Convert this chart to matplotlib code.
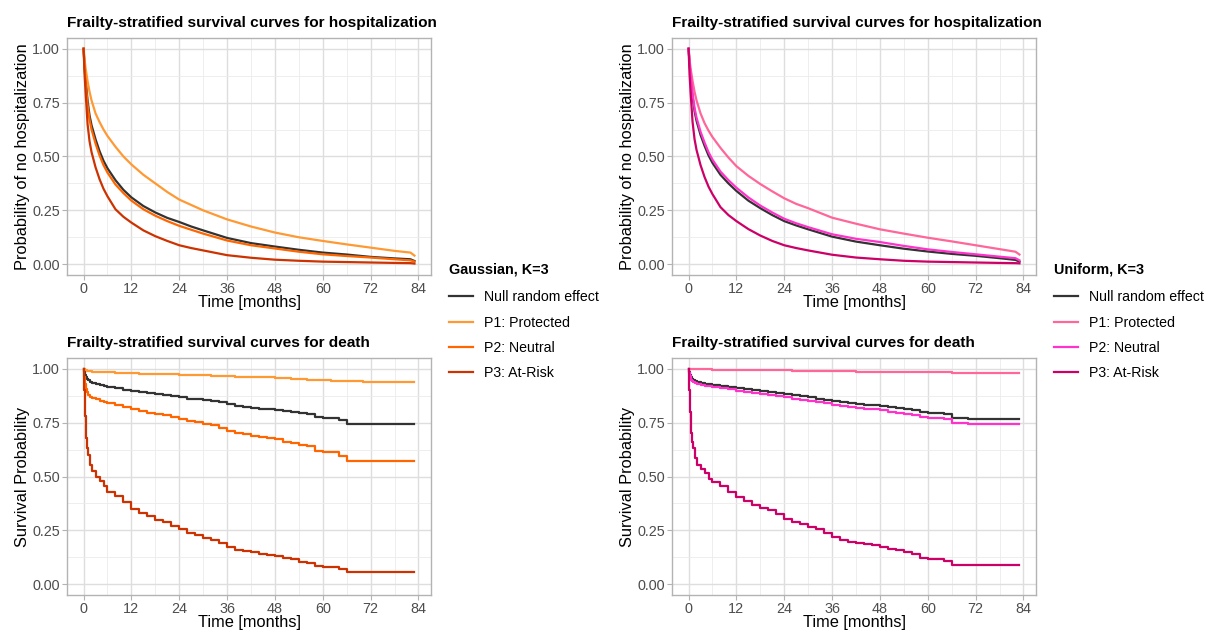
import numpy as np
import matplotlib
matplotlib.use("Agg")
import matplotlib.pyplot as plt
from matplotlib.ticker import MultipleLocator, FormatStrFormatter

plt.rcParams['font.family'] = ['Liberation Sans', 'DejaVu Sans']

labels = ["Null random effect", "P1: Protected", "P2: Neutral", "P3: At-Risk"]
gauss_colors = ["#333333", "#FF9933", "#FF6600", "#CC3300"]
unif_colors = ["#333333", "#FF6699", "#FF33CC", "#CC0066"]

# hospitalization curves (months, survival)
hosp_t = [0, 0.25, 0.5, 1, 1.5, 2, 3, 4, 5, 6, 8, 10, 12, 15, 18, 21, 24, 27, 30, 36, 42, 48, 54, 60, 66, 72, 78, 82, 83]

g_hosp_null = [1.0, 0.92, 0.86, 0.76, 0.69, 0.645, 0.58, 0.525, 0.48, 0.445, 0.39, 0.345, 0.31, 0.27, 0.24, 0.215, 0.196, 0.175, 0.157, 0.122, 0.098, 0.082, 0.067, 0.054, 0.045, 0.034, 0.027, 0.023, 0.015]
g_hosp_p1 = [1.0, 0.95, 0.91, 0.85, 0.80, 0.76, 0.70, 0.66, 0.625, 0.595, 0.545, 0.50, 0.463, 0.415, 0.375, 0.335, 0.30, 0.275, 0.25, 0.208, 0.175, 0.147, 0.125, 0.108, 0.092, 0.077, 0.062, 0.054, 0.04]
g_hosp_p2 = [1.0, 0.91, 0.85, 0.74, 0.67, 0.625, 0.56, 0.505, 0.46, 0.425, 0.37, 0.33, 0.295, 0.255, 0.225, 0.20, 0.178, 0.16, 0.142, 0.11, 0.088, 0.073, 0.058, 0.046, 0.038, 0.031, 0.023, 0.018, 0.012]
g_hosp_p3 = [1.0, 0.88, 0.80, 0.65, 0.57, 0.52, 0.45, 0.395, 0.35, 0.315, 0.255, 0.22, 0.193, 0.157, 0.13, 0.108, 0.088, 0.075, 0.064, 0.042, 0.030, 0.021, 0.016, 0.012, 0.010, 0.008, 0.006, 0.005, 0.003]

u_hosp_null = [1.0, 0.93, 0.87, 0.78, 0.71, 0.665, 0.60, 0.55, 0.505, 0.47, 0.415, 0.375, 0.34, 0.295, 0.26, 0.228, 0.20, 0.18, 0.162, 0.128, 0.105, 0.088, 0.072, 0.059, 0.048, 0.039, 0.028, 0.02, 0.012]
u_hosp_p1 = [1.0, 0.95, 0.91, 0.85, 0.80, 0.76, 0.70, 0.655, 0.62, 0.59, 0.54, 0.495, 0.455, 0.41, 0.372, 0.338, 0.306, 0.28, 0.26, 0.216, 0.188, 0.162, 0.142, 0.123, 0.106, 0.088, 0.07, 0.058, 0.045]
u_hosp_p2 = [1.0, 0.935, 0.88, 0.79, 0.725, 0.68, 0.615, 0.565, 0.52, 0.485, 0.43, 0.39, 0.355, 0.31, 0.272, 0.24, 0.211, 0.19, 0.172, 0.139, 0.118, 0.103, 0.085, 0.069, 0.057, 0.046, 0.035, 0.028, 0.018]
u_hosp_p3 = [1.0, 0.88, 0.80, 0.66, 0.58, 0.53, 0.46, 0.405, 0.36, 0.325, 0.265, 0.228, 0.20, 0.163, 0.133, 0.108, 0.088, 0.075, 0.064, 0.044, 0.031, 0.023, 0.016, 0.012, 0.010, 0.008, 0.006, 0.005, 0.004]

# death curves (step functions)
death_t = [0, 0.1, 0.25, 0.5, 0.75, 1, 1.5, 2, 3, 4, 5, 6, 8, 10, 12, 14, 16, 18, 20, 22, 24, 26, 28, 30,
           32, 34, 36, 38, 40, 42, 44, 46, 48, 50, 52, 54, 56, 58, 60, 62, 64, 66, 70, 75, 80, 83]

g_death_null = [1.0, 0.985, 0.97, 0.96, 0.952, 0.947, 0.94, 0.936, 0.93, 0.925, 0.921, 0.917, 0.91, 0.903, 0.898, 0.893, 0.888, 0.885, 0.88, 0.874, 0.868, 0.862, 0.858,
                0.855, 0.85, 0.845, 0.838, 0.828, 0.822, 0.818, 0.815, 0.813, 0.81, 0.802, 0.798, 0.795, 0.788, 0.775, 0.773, 0.772, 0.763, 0.745, 0.742, 0.742, 0.742, 0.742]
g_death_p1 = [1.0, 0.997, 0.994, 0.992, 0.99, 0.989, 0.988, 0.987, 0.986, 0.985, 0.984, 0.983, 0.982, 0.98, 0.979, 0.978, 0.977, 0.976, 0.975, 0.974, 0.972, 0.971, 0.97,
              0.969, 0.968, 0.967, 0.966, 0.964, 0.963, 0.962, 0.961, 0.96, 0.958, 0.956, 0.954, 0.952, 0.95, 0.947, 0.946, 0.945, 0.944, 0.941, 0.94, 0.94, 0.94, 0.94]
g_death_p2 = [1.0, 0.96, 0.93, 0.905, 0.89, 0.88, 0.87, 0.865, 0.86, 0.852, 0.848, 0.843, 0.833, 0.822, 0.812, 0.803, 0.797, 0.792, 0.787, 0.776, 0.766, 0.757, 0.752,
              0.742, 0.738, 0.725, 0.712, 0.70, 0.695, 0.69, 0.684, 0.679, 0.675, 0.662, 0.655, 0.645, 0.64, 0.617, 0.616, 0.615, 0.597, 0.572, 0.57, 0.57, 0.57, 0.57]
g_death_p3 = [1.0, 0.90, 0.78, 0.68, 0.63, 0.60, 0.555, 0.525, 0.50, 0.48, 0.455, 0.43, 0.41, 0.38, 0.35, 0.33, 0.315, 0.30, 0.29, 0.27, 0.255, 0.24, 0.23,
              0.215, 0.205, 0.19, 0.175, 0.16, 0.155, 0.148, 0.14, 0.135, 0.13, 0.12, 0.115, 0.105, 0.10, 0.085, 0.082, 0.08, 0.07, 0.057, 0.056, 0.056, 0.056, 0.056]

u_death_null = [1.0, 0.985, 0.972, 0.96, 0.952, 0.947, 0.942, 0.939, 0.935, 0.931, 0.928, 0.925, 0.92, 0.915, 0.91, 0.905, 0.90, 0.897, 0.893, 0.887, 0.882, 0.876, 0.872,
                0.868, 0.862, 0.856, 0.85, 0.845, 0.842, 0.838, 0.834, 0.832, 0.829, 0.822, 0.818, 0.813, 0.81, 0.80, 0.797, 0.796, 0.788, 0.77, 0.768, 0.768, 0.768, 0.768]
u_death_p1 = [1.0, 0.999, 0.999, 0.999, 0.998, 0.998, 0.998, 0.998, 0.997, 0.997, 0.997, 0.996, 0.996, 0.995, 0.995, 0.994, 0.994, 0.993, 0.993, 0.992, 0.992, 0.991, 0.991,
              0.99, 0.99, 0.989, 0.989, 0.988, 0.988, 0.987, 0.987, 0.986, 0.986, 0.986, 0.985, 0.985, 0.985, 0.984, 0.984, 0.984, 0.983, 0.982, 0.982, 0.982, 0.982, 0.982]
u_death_p2 = [1.0, 0.98, 0.965, 0.95, 0.942, 0.937, 0.932, 0.929, 0.925, 0.921, 0.918, 0.915, 0.909, 0.904, 0.898, 0.893, 0.888, 0.884, 0.879, 0.873, 0.867, 0.86, 0.856,
              0.852, 0.845, 0.84, 0.832, 0.826, 0.822, 0.818, 0.815, 0.812, 0.81, 0.80, 0.797, 0.79, 0.786, 0.775, 0.773, 0.772, 0.765, 0.746, 0.744, 0.744, 0.744, 0.744]
u_death_p3 = [1.0, 0.90, 0.80, 0.70, 0.66, 0.63, 0.585, 0.555, 0.535, 0.515, 0.49, 0.475, 0.455, 0.43, 0.405, 0.385, 0.37, 0.355, 0.345, 0.325, 0.305, 0.29, 0.28,
              0.265, 0.255, 0.24, 0.22, 0.205, 0.198, 0.19, 0.185, 0.18, 0.175, 0.165, 0.16, 0.15, 0.142, 0.12, 0.118, 0.117, 0.108, 0.09, 0.088, 0.088, 0.088, 0.088]

x_ticks = [0, 12, 24, 36, 48, 60, 72, 84]


def draw_panel(ax, t, curves, colors, title, ylabel, steps=False):
    for y, c, lab in zip(curves, colors, labels):
        if steps:
            ax.plot(t, y, color=c, lw=1.6, drawstyle='steps-post', label=lab)
        else:
            ax.plot(t, y, color=c, lw=1.6, label=lab)
    ax.set_xlim(-4.15, 87.15)
    ax.set_ylim(-0.05, 1.05)
    ax.set_xticks(x_ticks)
    ax.xaxis.set_minor_locator(MultipleLocator(6))
    ax.yaxis.set_major_locator(MultipleLocator(0.25))
    ax.yaxis.set_minor_locator(MultipleLocator(0.125))
    ax.yaxis.set_major_formatter(FormatStrFormatter('%.2f'))
    ax.grid(which='major', color='#DEDEDE', lw=1.0)
    ax.grid(which='minor', color='#EBEBEB', lw=0.6)
    ax.set_axisbelow(True)
    for s in ax.spines.values():
        s.set_color('#B3B3B3')
        s.set_linewidth(1.0)
    ax.tick_params(which='major', colors='#B3B3B3', labelcolor='#4D4D4D', labelsize=10.4, length=3.5, width=0.8, pad=1.5)
    ax.tick_params(which='minor', length=0)
    ax.set_xlabel("Time [months]", fontsize=11.8, labelpad=-1)
    ax.set_ylabel(ylabel, fontsize=11.8, labelpad=2)
    ax.set_title(title, loc='left', fontsize=11.1, fontweight='bold', pad=8)


fig = plt.figure(figsize=(12.1, 6.37), dpi=100)
w, h = 0.3008, 0.3721
ax_tl = fig.add_axes([0.0554, 0.5683, w, h])
ax_bl = fig.add_axes([0.0554, 0.0659, w, h])
ax_tr = fig.add_axes([0.5554, 0.5683, w, h])
ax_br = fig.add_axes([0.5554, 0.0659, w, h])

draw_panel(ax_tl, hosp_t, [g_hosp_null, g_hosp_p1, g_hosp_p2, g_hosp_p3], gauss_colors,
           "Frailty-stratified survival curves for hospitalization", "Probability of no hospitalization")
draw_panel(ax_bl, death_t, [g_death_null, g_death_p1, g_death_p2, g_death_p3], gauss_colors,
           "Frailty-stratified survival curves for death", "Survival Probability", steps=True)
draw_panel(ax_tr, hosp_t, [u_hosp_null, u_hosp_p1, u_hosp_p2, u_hosp_p3], unif_colors,
           "Frailty-stratified survival curves for hospitalization", "Probability of no hospitalization")
draw_panel(ax_br, death_t, [u_death_null, u_death_p1, u_death_p2, u_death_p3], unif_colors,
           "Frailty-stratified survival curves for death", "Survival Probability", steps=True)

for ax, ttl, xpos in [(ax_tl, "Gaussian, K=3", 0.366), (ax_tr, "Uniform, K=3", 0.866)]:
    hs, ls = ax.get_legend_handles_labels()
    leg = fig.legend(hs, ls, title=ttl, loc='upper left', bbox_to_anchor=(xpos, 0.597),
                     frameon=False, fontsize=10.2, handlelength=1.7, handletextpad=0.8,
                     labelspacing=0.8, alignment='left', borderaxespad=0)
    leg.get_title().set_fontweight('bold')
    leg.get_title().set_fontsize(10.4)
    leg._legend_box.sep = 10

fig.savefig("out.png", dpi=100)
